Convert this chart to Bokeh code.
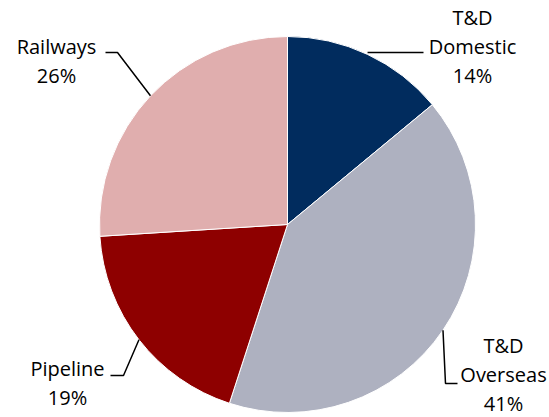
import math
from bokeh.plotting import figure
from bokeh.models import Range1d, ColumnDataSource
from bokeh.core.properties import value
from bokeh.embed import file_html
from bokeh.resources import INLINE

# data
categories = ["T&D\nDomestic", "T&D\nOverseas", "Pipeline", "Railways"]
shares = [14, 41, 19, 26]
colors = ["#012c5e", "#aeb1c0", "#8e0000", "#e0aeae"]

W, H = 549, 417
p = figure(width=W, height=H, output_backend="svg", toolbar_location=None,
           x_range=Range1d(0, W), y_range=Range1d(417 - H, 417),
           min_border=0)
p.axis.visible = False
p.grid.visible = False
p.outline_line_color = None
p.background_fill_color = None
p.border_fill_color = "white"

cx, cy, r = 287, 417 - 224, 188
total = sum(shares)
starts, ends, mids = [], [], []
a = math.pi / 2
for v in shares:
    span = 2 * math.pi * v / total
    starts.append(a - span)
    ends.append(a)
    mids.append(a - span / 2)
    a -= span

src = ColumnDataSource(dict(start=starts, end=ends, color=colors))
p.wedge(x=cx, y=cy, radius=r, start_angle="start", end_angle="end",
        fill_color="color", line_color="white", line_width=1, source=src)

# label layout (image coordinates: elbow point, end point, text center x, block center y)
layout = [
    dict(elbow=None, end=(423, 52), tx=472, ty=46),
    dict(elbow=(445, 383), end=(457, 383), tx=503, ty=374),
    dict(elbow=(123, 375), end=(110, 375), tx=67, ty=382),
    dict(elbow=(117, 52), end=(105, 52), tx=56, ty=60),
]

fs = 20
lh = 29
for cat, v, m, L in zip(categories, shares, mids, layout):
    sx = cx + r * math.cos(m)
    sy = cy + r * math.sin(m)
    xs, ys = [sx], [sy]
    if L["elbow"] is not None:
        xs.append(L["elbow"][0]); ys.append(417 - L["elbow"][1])
    else:
        ys[0] = 417 - L["end"][1]
    xs.append(L["end"][0]); ys.append(417 - L["end"][1])
    p.line(xs, ys, line_color="black", line_width=1.5)
    lines = cat.split("\n") + [f"{v}%"]
    n = len(lines)
    for i, t in enumerate(lines):
        yy = L["ty"] + (i - (n - 1) / 2) * lh
        p.text(x=[L["tx"]], y=[417 - yy], text=[t], text_align="center",
               text_baseline="middle", text_font=value("Open Sans"),
               text_font_size=f"{fs}px", text_color="black")

open("out.html", "w").write(file_html(p, INLINE))
